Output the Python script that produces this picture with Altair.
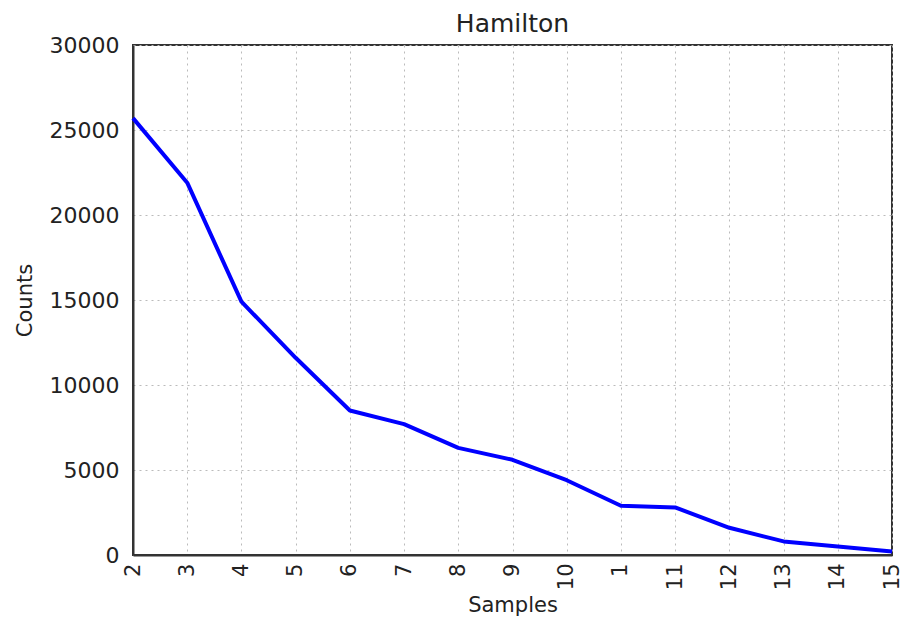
import altair as alt
import pandas as pd

samples = ["2", "3", "4", "5", "6", "7", "8", "9", "10", "1", "11", "12", "13", "14", "15"]
counts = [25700, 21900, 14900, 11600, 8500, 7700, 6300, 5600, 4400, 2900, 2800, 1600, 800, 500, 200]
y_ticks = [0, 5000, 10000, 15000, 20000, 25000, 30000]

df = pd.DataFrame({"Samples": samples, "Counts": counts})

FONT = "DejaVu Sans"

chart = alt.Chart(df).mark_line(color="#0000ff", strokeWidth=4, strokeJoin="round").encode(
    x=alt.X("Samples:N", sort=samples,
            scale=alt.Scale(padding=0),
            axis=alt.Axis(title="Samples", labelAngle=270, labelFontSize=21,
                          labelPadding=8, ticks=False, grid=True,
                          titleFontSize=21, titleFontWeight="normal", titlePadding=5)),
    y=alt.Y("Counts:Q", scale=alt.Scale(domain=[0, 30000], nice=False),
            axis=alt.Axis(title="Counts", values=y_ticks, format="d", labelFontSize=22,
                          labelPadding=14, ticks=False, grid=True,
                          titleFontSize=21, titleFontWeight="normal", titlePadding=14)),
).properties(
    width=759, height=510,
    title=alt.TitleParams("Hamilton", fontSize=25, fontWeight="normal", font=FONT,
                          color="#222222", offset=-3),
    autosize=alt.AutoSizeParams(type="none"),
    padding={"left": 133, "top": 45, "right": 12, "bottom": 70},
    background="white",
).configure_axis(
    labelFont=FONT, titleFont=FONT, labelColor="#222222", titleColor="#222222",
    domainColor="#333333", domainWidth=2,
    gridColor="#bbbbbb", gridDash=[2, 4], gridWidth=1,
).configure_view(
    stroke="#333333", strokeWidth=2,
)

chart.save("out.html", embed_options={"renderer": "svg", "actions": False})
